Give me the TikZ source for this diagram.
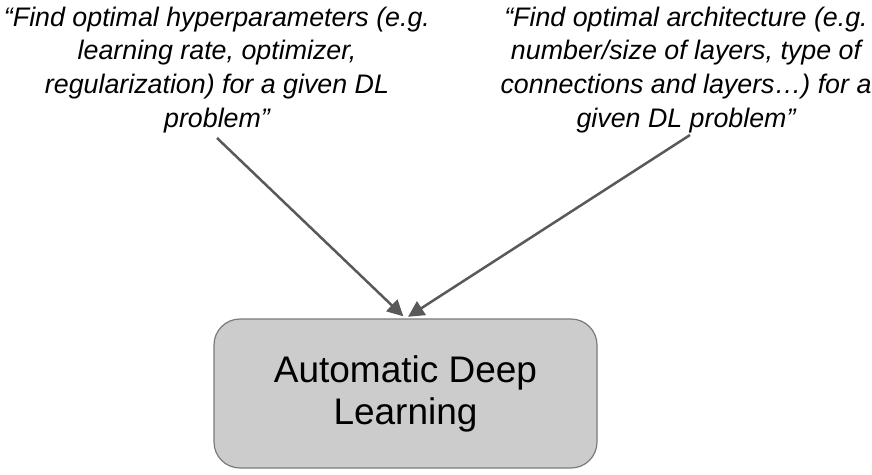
\documentclass[tikz,border=0pt]{standalone}
\usepackage{fontspec}
\setmainfont{Liberation Sans}
\usetikzlibrary{arrows.meta}
\definecolor{boxfill}{HTML}{CCCCCC}
\definecolor{boxline}{HTML}{7A7A7A}
\definecolor{arrowc}{HTML}{595959}
\tikzset{
  quote/.style={align=center, inner sep=0pt, font=\fontsize{26.8}{33.7}\selectfont\itshape},
  mainbox/.style={draw=boxline, line width=1.2pt, fill=boxfill, rounded corners=26pt, minimum width=383pt, minimum height=149pt, align=center, inner sep=0pt, font=\fontsize{37}{42}\selectfont},
  link/.style={draw=arrowc, line width=2.5pt, -{Triangle[length=16pt,width=16pt]}, shorten >=3pt}
}
\begin{document}
\begin{tikzpicture}[x=1pt,y=-1pt]
\useasboundingbox (0,0) rectangle (872,474);
\node[quote, anchor=north] (q1) at (217,6.5) {“Find optimal hyperparameters (e.g.\\ learning rate, optimizer,\\ regularization) for a given DL\\ problem”};
\node[quote, anchor=north] (q2) at (686,6.5) {“Find optimal architecture (e.g.\\ number/size of layers, type of\\ connections and layers…) for a\\ given DL problem”};
\node[mainbox] (adl) at (405.5,393.5) {Automatic Deep\\ Learning};
\coordinate (s1) at (217,138);
\coordinate (s2) at (690,135);
\draw[link] (s1) -- (adl.north);
\draw[link] (s2) -- (adl.north);
\end{tikzpicture}
\end{document}
